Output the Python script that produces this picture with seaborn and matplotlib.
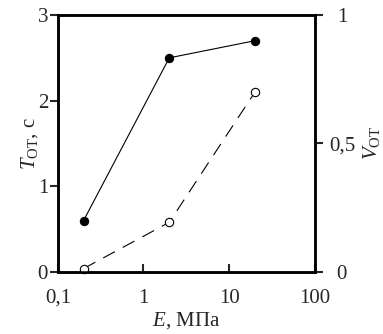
import matplotlib
matplotlib.use("Agg")
import matplotlib.pyplot as plt
import seaborn as sns
import pandas as pd

# data
E_vals = [0.2, 2, 20]
T_vals = [0.6, 2.5, 2.7]
V_vals = [0.013, 0.193, 0.70]
x_ticks = [0.1, 1, 10, 100]
x_ticklabels = ["0,1", "1", "10", "100"]
yl_ticks = [0, 1, 2, 3]
yl_ticklabels = ["0", "1", "2", "3"]
yr_ticks = [0, 0.5, 1]
yr_ticklabels = ["0", "0,5", "1"]

sns.set_style("ticks")
plt.rcParams['font.family'] = ['Liberation Serif', 'DejaVu Serif']
plt.rcParams['mathtext.fontset'] = 'custom'
plt.rcParams['mathtext.rm'] = 'Liberation Serif'
plt.rcParams['mathtext.it'] = 'Liberation Serif:italic'

df_T = pd.DataFrame({"E": E_vals, "T": T_vals})
df_V = pd.DataFrame({"E": E_vals, "V": V_vals})

fig = plt.figure(figsize=(3.83, 3.34), dpi=100)
ax = fig.add_axes([0.151, 0.186, 0.671, 0.769])
ax2 = ax.twinx()

sns.lineplot(data=df_T, x="E", y="T", ax=ax, color="black", lw=0.8,
             marker="o", markersize=6, markerfacecolor="black",
             markeredgecolor="black", clip_on=False)
sns.lineplot(data=df_V, x="E", y="V", ax=ax2, color="black", lw=0.8,
             linestyle=(0, (12, 8)), marker="o", markersize=6,
             markerfacecolor="white", markeredgecolor="black",
             markeredgewidth=0.8, clip_on=False)

ax.set_xscale("log")
ax.set_xlim(0.1, 100)
ax.set_ylim(0, 3)
ax2.set_ylim(0, 1)
ax.set_xticks(x_ticks)
ax.set_xticklabels(x_ticklabels)
ax.xaxis.set_minor_locator(matplotlib.ticker.NullLocator())
ax.set_yticks(yl_ticks)
ax.set_yticklabels(yl_ticklabels)
ax2.set_yticks(yr_ticks)
ax2.set_yticklabels(yr_ticklabels)

fs = 15
ax.tick_params(axis="x", direction="in", length=6, width=1.5, labelsize=fs, pad=12)
ax.tick_params(axis="y", direction="out", length=6, width=1.5, labelsize=fs, pad=1)
ax2.tick_params(axis="y", direction="out", length=6, width=1.5, labelsize=fs, pad=13.5)
for lab in ax2.get_yticklabels():
    lab.set_horizontalalignment("center")

for a in (ax, ax2):
    for s in a.spines.values():
        s.set_linewidth(1.8)
        s.set_color("black")
        s.set_visible(True)

ax.set_xlabel(r"$E$, МПа", fontsize=fs, labelpad=2)
ax.set_ylabel(r"$T_{\mathrm{ОТ}}$, с", fontsize=fs, labelpad=-2)
ax2.set_ylabel(r"$V_{\mathrm{ОТ}}$", fontsize=fs, rotation=90)
ax2.yaxis.set_label_coords(1.18, 0.5)

fig.savefig("out.png", dpi=100)
